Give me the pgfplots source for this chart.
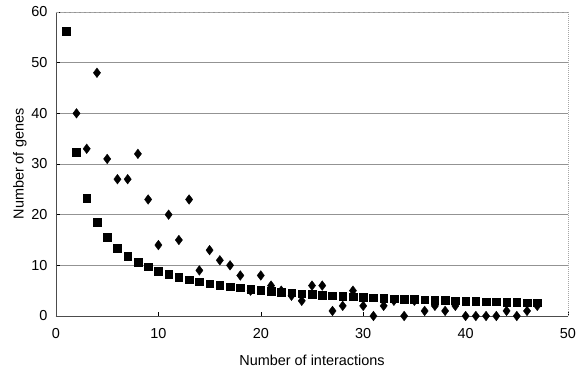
\documentclass[border=0pt]{standalone}
\usepackage{fontspec}
\setmainfont{Liberation Sans}
\usepackage{pgfplots}
\pgfplotsset{compat=1.18}
\pgfplotstableread{
x y
1 56.2
2 32.3
3 23.3
4 18.5
5 15.5
6 13.4
7 11.8
8 10.6
9 9.7
10 8.9
11 8.25
12 7.7
13 7.2
14 6.8
15 6.4
16 6.1
17 5.8
18 5.6
19 5.3
20 5.1
21 4.9
22 4.7
23 4.6
24 4.4
25 4.3
26 4.1
27 4.0
28 3.9
29 3.8
30 3.7
31 3.6
32 3.5
33 3.4
34 3.35
35 3.3
36 3.2
37 3.1
38 3.07
39 3.0
40 2.95
41 2.9
42 2.84
43 2.79
44 2.74
45 2.69
46 2.65
47 2.6
}\fitdata
\pgfplotstableread{
x y
2 40
3 33
4 48
5 31
6 27
7 27
8 32
9 23
10 14
11 20
12 15
13 23
14 9
15 13
16 11
17 10
18 8
19 5
20 8
21 6
22 5
23 4
24 3
25 6
26 6
27 1
28 2
29 5
30 2
31 0
32 2
33 3
34 0
35 3
36 1
37 2
38 1
39 2
40 0
41 0
42 0
43 0
44 1
45 0
46 1
47 2
}\obsdata
\begin{document}
\begin{tikzpicture}
\begin{axis}[
  at={(0,0)}, anchor=south west,
  scale only axis, width=512bp, height=304bp,
  xmin=0, xmax=50, ymin=0, ymax=60,
  xtick={0,10,...,50}, ytick={0,10,...,60},
  axis x line*=bottom, axis y line*=left,
  ymajorgrids, grid style={gray!85, line width=0.8pt},
  tick align=inside, major tick length=4bp,
  tick style={black, line width=0.6pt},
  axis line style={gray!60!black, line width=0.9pt},
  font=\fontsize{14.5}{16}\selectfont,
  /pgf/number format/assume math mode=true,
  yticklabel style={xshift=-5bp},
  xticklabel style={yshift=-9bp},
  xlabel={Number of interactions},
  ylabel={Number of genes},
  xlabel style={yshift=-9bp},
  ylabel style={yshift=-2bp},
  clip=false,
]
\addplot[only marks, mark=square*, mark size=3.8bp, black] table[x=x,y=y]{\fitdata};
\addplot[only marks, mark=diamond*, mark size=4.8bp, black] table[x=x,y=y]{\obsdata};
\draw[gray!70, densely dotted, line width=1pt] (axis cs:50,0) -- (axis cs:50,60);
\draw[gray!70, densely dashed, line width=0.6pt] (axis cs:0,60) -- (axis cs:50,60);
\end{axis}
\pgfresetboundingbox
\path[use as bounding box] (-56bp,-54bp) rectangle (523bp,316bp);
\end{tikzpicture}
\end{document}
